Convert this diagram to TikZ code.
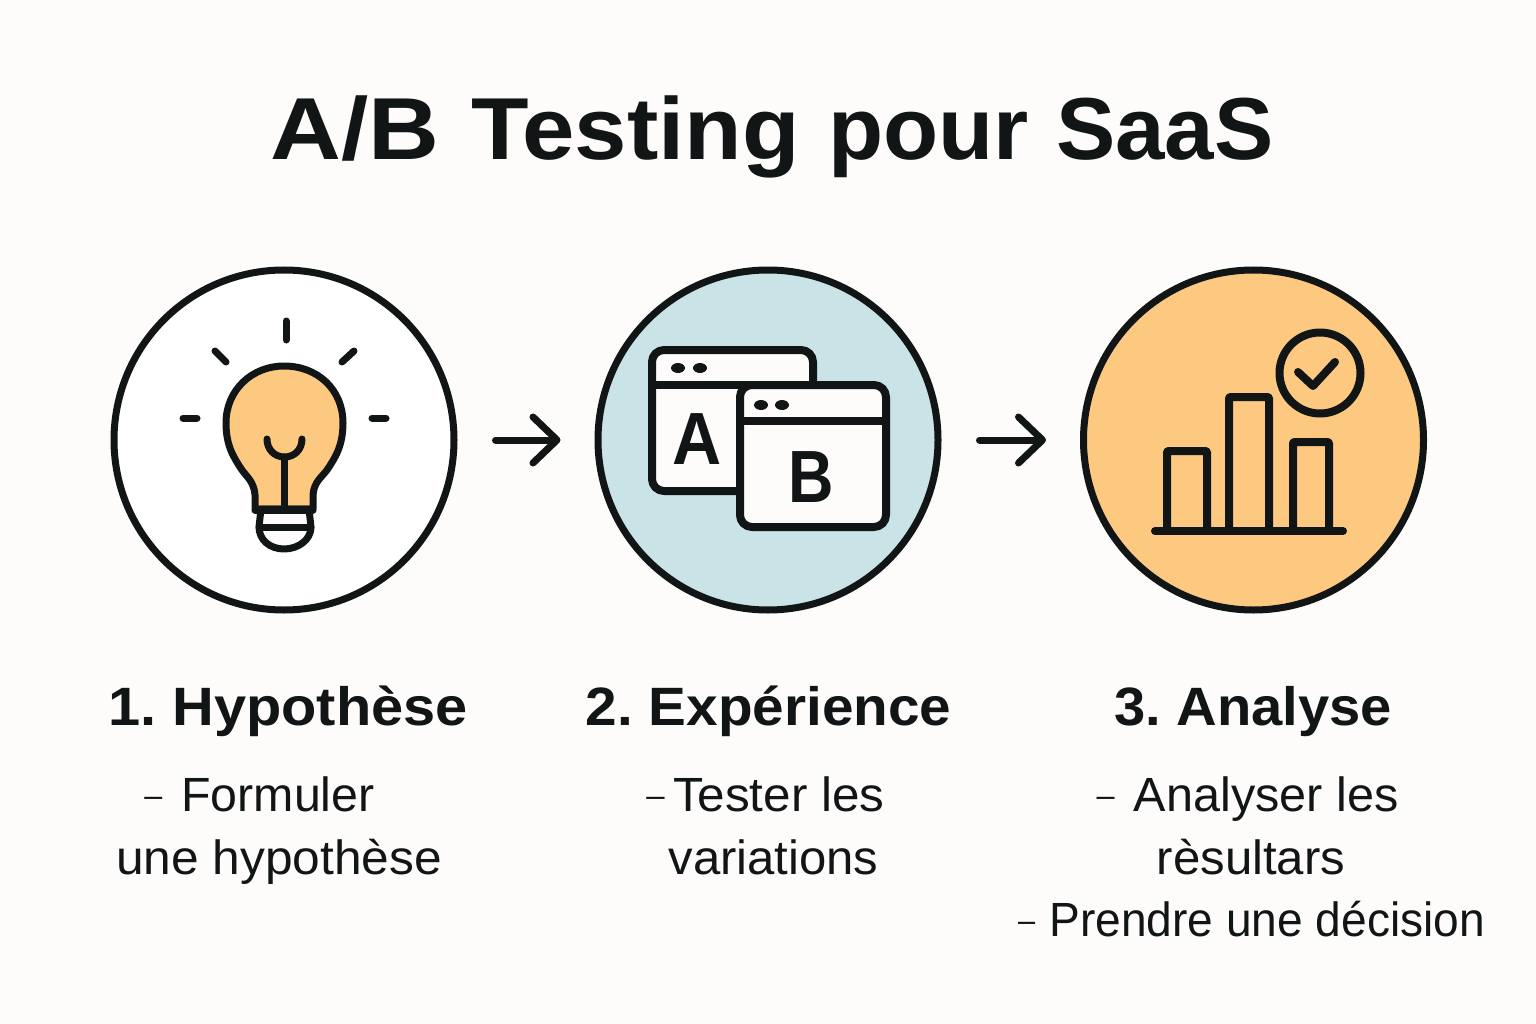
\documentclass[tikz,border=0pt]{standalone}
\usepackage{fontspec}
\usepackage{graphicx}
\setmainfont{Liberation Sans}
\usetikzlibrary{arrows.meta}
\definecolor{paper}{HTML}{FDFCFA}
\definecolor{ink}{HTML}{121515}
\definecolor{sky}{HTML}{C9E3E6}
\definecolor{amber}{HTML}{FDC981}
\definecolor{pane}{HTML}{FDFCFA}
\newcommand{\fsz}[1]{\fontsize{#1}{#1}\selectfont}
\newcommand{\dsh}{\raisebox{.1em}{\fsz{32}–}}
\newcommand{\sx}[2]{\scalebox{#1}[1]{#2}}
\tikzset{
  disc/.style={circle,draw=ink,line width=7pt,minimum size=340pt,inner sep=0pt},
  flow/.style={draw=ink,line width=7pt,line cap=round,-{Straight Barb[length=24pt,width=46pt,line width=7pt,round]},shorten <=38pt,shorten >=34pt},
  icon/.style={draw=ink,line width=7pt,line cap=round,line join=round},
  iconb/.style={draw=ink,line width=8pt,line cap=round,line join=round},
  win/.style={iconb,fill=pane,rounded corners=12pt},
  ttl/.style={text=ink,anchor=base,inner sep=0pt,font=\fsz{88}\bfseries},
  head/.style={text=ink,anchor=base,inner sep=0pt,font=\fsz{54}\bfseries},
  body/.style={text=ink,anchor=base,inner sep=0pt,font=\fsz{48}},
  big/.style={text=ink,anchor=base,inner sep=0pt,font=\fsz{74}\bfseries}
}
\begin{document}
\begin{tikzpicture}[x=1pt,y=-1pt]
\path[use as bounding box,fill=paper] (0,0) rectangle (1536,1024);
\node[ttl] (title) at (772,160) {\sx{1.115}{A/B} \hspace{8pt}\sx{1.07}{Testing} \hspace{4pt}\sx{1.026}{pour} \hspace{3pt}\sx{1.01}{SaaS}};
\node[disc,fill=white] (c1) at (284,440) {};
\node[disc,fill=sky] (c2) at (768,440) {};
\node[disc,fill=amber] (c3) at (1253.5,440) {};
\draw[flow] (c1) -- (c2);
\draw[flow] (c2) -- (c3);
% bulb
\draw[icon,fill=amber] (255,509) -- (255,495) .. controls (254,482) and (247,477) .. (242,470)
  .. controls (234,458) and (226,446) .. (226,423)
  .. controls (226,390) and (252,366) .. (284,366)
  .. controls (318,366) and (343,390) .. (343,423)
  .. controls (343,446) and (335,458) .. (327,470)
  .. controls (321,478) and (314,482) .. (313,495) -- (313,509) -- cycle;
\draw[icon] (267,439) .. controls (267,450) and (275,457) .. (284.5,457) .. controls (294,457) and (302,450) .. (302,439);
\draw[icon] (284.5,457) -- (284.5,509);
\draw[icon,fill=paper] (261,509) -- (259,527) .. controls (259,540) and (270,549) .. (284,549) .. controls (298,549) and (311,540) .. (311,527) -- (309,509) -- cycle;
\draw[icon] (259,527) -- (311,527);
\draw[icon] (255,510) -- (313,510);
\draw[icon] (286,321) -- (286,340);
\draw[icon] (215,351) -- (226,362);
\draw[icon] (354,351) -- (342,362);
\draw[icon] (183,418) -- (197,418);
\draw[icon] (372,418) -- (386,418);
% windows
\draw[win] (652,350) rectangle (813,491);
\draw[iconb] (652,385) -- (813,385);
\path[fill=ink] (678,368) ellipse [x radius=7,y radius=5];
\path[fill=ink] (700,368) ellipse [x radius=7,y radius=5];
\node[big] (la) at (697,464) {\sx{.92}{A}};
\draw[win] (740,385) rectangle (886,527);
\draw[iconb] (740,421) -- (886,421);
\path[fill=ink] (761,405) ellipse [x radius=7,y radius=5];
\path[fill=ink] (782,405) ellipse [x radius=7,y radius=5];
\node[big] (lb) at (811,502) {\sx{.85}{B}};
% chart
\draw[iconb,line cap=butt,rounded corners=1pt] (1167,531) -- (1167,451) -- (1207,451) -- (1207,531);
\draw[iconb,line cap=butt,rounded corners=1pt] (1229,531) -- (1229,397) -- (1269,397) -- (1269,531);
\draw[iconb,line cap=butt,rounded corners=1pt] (1293,531) -- (1293,442) -- (1329,442) -- (1329,531);
\draw[iconb] (1155,531) -- (1343,531);
\draw[iconb] (1320,373) circle [radius=40.5];
\draw[iconb] (1298,372) -- (1313,386) -- (1335,362);
% labels
\node[head] (h1) at (288,725) {\sx{1.07}{1. \hspace{-5pt}Hypothèse}};
\node[head] (h2) at (768.5,725) {\sx{1.05}{2. \hspace{-5pt}Expérience}};
\node[head] (h3) at (1253,725) {\sx{1.04}{3. \hspace{-5pt}Analyse}};
\node[body] (b11) at (259.5,811) {\sx{1.007}{\dsh\hspace{19pt}Formuler}};
\node[body] (b12) at (279,874) {\sx{1.035}{une hypothèse}};
\node[body] (b21) at (765.5,811) {\sx{1.03}{\dsh\hspace{8pt}Tester les}};
\node[body] (b22) at (773.5,874) {\sx{1.022}{variations}};
\node[body] (b31) at (1247.5,811) {\sx{1.012}{\dsh\hspace{19pt}Analyser les}};
\node[body] (b32) at (1251,874) {\sx{1.024}{rèsultars}};
\node[body] (b33) at (1251.5,936) {\sx{.96}{\dsh\hspace{15pt}Prendre une décision}};
\end{tikzpicture}
\end{document}
